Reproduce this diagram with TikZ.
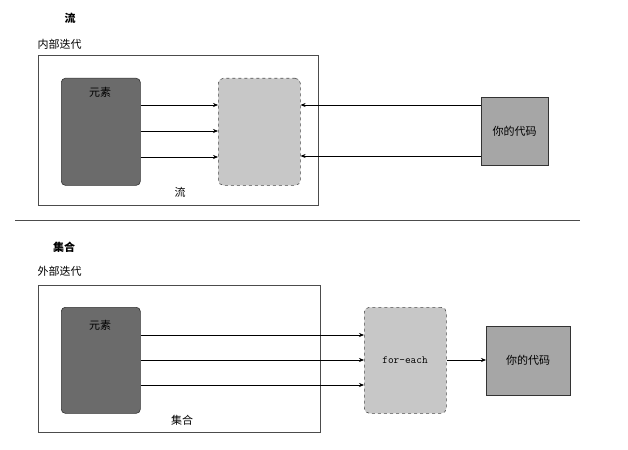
\documentclass[tikz,border=0pt]{standalone}
\usepackage{fontspec}
\setmainfont{Liberation Sans}
\newfontfamily\cjk{Noto Sans CJK SC}
\usetikzlibrary{arrows.meta}
\begin{document}
\begin{tikzpicture}[x=1pt,y=-1pt,
 lbl/.style={font=\cjk\fontsize{11}{13}\selectfont},
 outer/.style={draw=black!70,line width=0.6pt},
 elem/.style={draw=black!80,fill=black!58,rounded corners=4pt,line width=0.6pt},
 dbox/.style={draw=black!70,fill=black!22,dashed,rounded corners=5pt,line width=0.6pt},
 code/.style={draw=black!80,fill=black!35,line width=0.6pt},
 arr/.style={-{Stealth[length=5pt,width=4pt]},line width=0.6pt}]
\useasboundingbox (0,0) rectangle (628,449);
\node[lbl,font=\cjk\bfseries\fontsize{11}{13}\selectfont] (t1) at (70,18) {流};
\node[lbl,anchor=west] (s1) at (34,44) {内部迭代};
\node[outer,minimum width=280pt,minimum height=150pt,anchor=north west] (o1) at (38,55) {};
\node[elem,minimum width=79pt,minimum height=107pt,anchor=north west] (e1) at (61,78) {};
\node[lbl] (e1l) at (100,92) {元素};
\node[dbox,minimum width=82pt,minimum height=107pt,anchor=north west] (d1) at (218,78) {};
\node[lbl] (f1) at (180,192) {流};
\node[code,lbl,minimum width=67pt,minimum height=68pt,anchor=north west] (c1) at (481,97) {};
\node[lbl] (c1l) at (514.5,131) {你的代码};
\foreach \y in {105,131,157}{\draw[arr] (e1.east|-0,\y) -- (d1.west|-0,\y);}
\foreach \y in {105,156}{\draw[arr] (c1.west|-0,\y) -- (d1.east|-0,\y);}
\coordinate (la) at (15,220); \coordinate (lb) at (580,220);
\draw[black!70,line width=0.6pt] (la) -- (lb);
\node[lbl,font=\cjk\bfseries\fontsize{11}{13}\selectfont] (t2) at (64,247) {集合};
\node[lbl,anchor=west] (s2) at (34,271) {外部迭代};
\node[outer,minimum width=282pt,minimum height=147pt,anchor=north west] (o2) at (38,285) {};
\node[elem,minimum width=79pt,minimum height=106pt,anchor=north west] (e2) at (61,307) {};
\node[lbl] (e2l) at (100,325) {元素};
\node[dbox,minimum width=82pt,minimum height=106pt,anchor=north west] (d2) at (364,307) {};
\node[font=\ttfamily\fontsize{11}{13}\selectfont] (fe) at (405,360) {for-each};
\node[lbl] (f2) at (182,420) {集合};
\node[code,minimum width=84pt,minimum height=69pt,anchor=north west] (c2) at (486,326) {};
\node[lbl] (c2l) at (528,360) {你的代码};
\foreach \y in {335,360,385}{\draw[arr] (e2.east|-0,\y) -- (d2.west|-0,\y);}
\draw[arr] (d2.east|-0,360) -- (c2.west|-0,360);
\end{tikzpicture}
\end{document}
